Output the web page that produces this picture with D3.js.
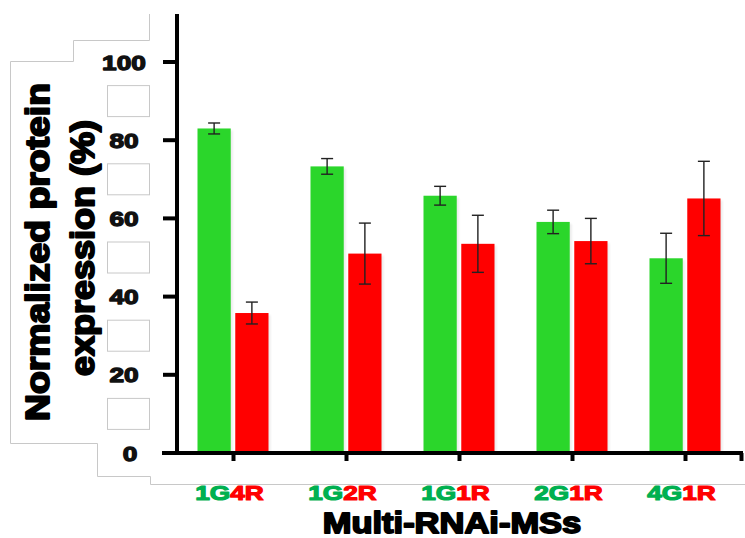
<!DOCTYPE html>
<html>
<head>
<meta charset="utf-8">
<script src="https://cdn.jsdelivr.net/npm/d3@7"></script>
<style>
html,body{margin:0;padding:0;background:#fff;}
svg{display:block;}
text{font-family:"Liberation Sans",Arial,sans-serif;font-weight:bold;}
</style>
</head>
<body>
<svg id="chart" width="745" height="538"></svg>
<script>
// ---- data ----
const categories = ["1G4R", "1G2R", "1G1R", "2G1R", "4G1R"];
const greenValues = [83.0, 73.3, 65.8, 59.1, 49.8];
const greenErrors = [1.4, 2.0, 2.4, 3.0, 6.4];
const redValues = [35.8, 51.0, 53.5, 54.2, 65.1];
const redErrors = [2.8, 7.8, 7.3, 5.8, 9.5];
const yTicks = [0, 20, 40, 60, 80, 100];
const boxValues = [10, 30, 50, 70, 90];
const seriesKeys = ["G", "R"];
const yLabelLines = ["Normalized protein", "expression (%)"];
const xTitle = "Multi-RNAi-MSs";

const GREEN = "#2bd62b", RED = "#ff0000", LABEL_GREEN = "#00b050";

const svg = d3.select("#chart");

const y = d3.scaleLinear().domain([0, 100]).range([453, 62]);
const x = d3.scaleBand().domain(categories).range([177, 742]).padding(0);
const xs = d3.scaleBand().domain(seriesKeys).range([-36, 35]).paddingInner(0.12).paddingOuter(0);
const center = c => x(c) + x.bandwidth() / 2;

// ---- background artifact outline ----
svg.append("path")
  .attr("d", "M149.5,14 V40.5 H73.5 V61.5 H10.5 V443.5 H97.5 V476.5 H150.5 V484.5 H745")
  .attr("fill", "none").attr("stroke", "#c8c8c8").attr("stroke-width", 1);

svg.selectAll("rect.box").data(boxValues).enter().append("rect")
  .attr("class", "box")
  .attr("x", 107.5).attr("width", 42)
  .attr("y", d => y(d) - 15.5).attr("height", 31)
  .attr("fill", "#fff").attr("stroke", "#c8c8c8").attr("stroke-width", 1);

// ---- bars ----
const defs = svg.append("defs");
defs.append("filter").attr("id", "sh").attr("x", "-20%").attr("width", "140%")
  .append("feGaussianBlur").attr("stdDeviation", 1.2);

const rows = [];
categories.forEach((c, i) => {
  rows.push({c, k: "G", v: greenValues[i], e: greenErrors[i]});
  rows.push({c, k: "R", v: redValues[i], e: redErrors[i]});
});

svg.selectAll("rect.shadow").data(rows).enter().append("rect")
  .attr("class", "shadow")
  .attr("x", d => center(d.c) + xs(d.k) + 2)
  .attr("width", xs.bandwidth())
  .attr("y", d => y(d.v) + 2)
  .attr("height", d => y(0) - y(d.v) - 2)
  .attr("fill", "#000").attr("opacity", 0.08)
  .attr("filter", "url(#sh)");

svg.selectAll("rect.bar").data(rows).enter().append("rect")
  .attr("class", "bar")
  .attr("x", d => center(d.c) + xs(d.k))
  .attr("width", xs.bandwidth())
  .attr("y", d => y(d.v))
  .attr("height", d => y(0) - y(d.v))
  .attr("fill", d => d.k === "G" ? GREEN : RED);

// ---- error bars ----
const eb = svg.append("g").attr("stroke", "#222").attr("stroke-width", 1.4);
rows.forEach(d => {
  const cx = center(d.c) + xs(d.k) + xs.bandwidth() / 2;
  const y1 = y(d.v + d.e), y2 = y(d.v - d.e);
  eb.append("line").attr("x1", cx).attr("x2", cx).attr("y1", y1).attr("y2", y2);
  eb.append("line").attr("x1", cx - 6).attr("x2", cx + 6).attr("y1", y1).attr("y2", y1);
  eb.append("line").attr("x1", cx - 6).attr("x2", cx + 6).attr("y1", y2).attr("y2", y2);
});

// ---- axes ----
const axisG = svg.append("g").attr("stroke", "#000").attr("stroke-width", 4).attr("fill", "none");
axisG.append("line").attr("x1", 177).attr("x2", 177).attr("y1", 14).attr("y2", y(0));
yTicks.forEach(t => {
  axisG.append("line").attr("x1", 163).attr("x2", 177).attr("y1", y(t)).attr("y2", y(t));
});
axisG.append("line").attr("x1", 162).attr("x2", 743).attr("y1", y(0)).attr("y2", y(0));
categories.forEach(c => {
  axisG.append("line").attr("x1", center(c)).attr("x2", center(c)).attr("y1", y(0)).attr("y2", y(0) + 8);
});
axisG.append("line").attr("x1", 741.5).attr("x2", 741.5).attr("y1", y(0)).attr("y2", y(0) + 8);

// y tick labels
svg.selectAll("g.ytl").data(yTicks).enter().append("g")
  .attr("class", "ytl")
  .attr("transform", d => `translate(${d === 0 ? 130 : 124},${y(d) + 7.5}) scale(1.25,1)`)
  .append("text")
  .attr("text-anchor", "middle")
  .attr("font-size", 21)
  .attr("fill", "#111").attr("stroke", "#111").attr("stroke-width", 1.3)
  .attr("stroke-linejoin", "round")
  .text(d => d);

// category labels
const cl = svg.selectAll("g.cl").data(categories).enter().append("g")
  .attr("class", "cl")
  .attr("transform", d => `translate(${center(d) - 4},499.5) scale(1.25,1)`)
  .append("text")
  .attr("text-anchor", "middle")
  .attr("font-size", 21)
  .attr("stroke-width", 1.2).attr("stroke-linejoin", "round");
cl.append("tspan").attr("fill", LABEL_GREEN).attr("stroke", LABEL_GREEN).text(d => d.slice(0, 2));
cl.append("tspan").attr("fill", RED).attr("stroke", RED).text(d => d.slice(2));

// x title
svg.append("g").attr("transform", "translate(452,533) scale(1.15,1)")
  .append("text").attr("text-anchor", "middle").attr("font-size", 30)
  .attr("fill", "#000").attr("stroke", "#000").attr("stroke-width", 1.8).attr("stroke-linejoin", "round")
  .text(xTitle);

// y title (two lines, rotated)
const yl = [{t: yLabelLines[0], bx: 49, cy: 252, len: 338}, {t: yLabelLines[1], bx: 94, cy: 248, len: 256}];
svg.selectAll("text.yl").data(yl).enter().append("text")
  .attr("class", "yl")
  .attr("transform", d => `translate(${d.bx},${d.cy}) rotate(-90)`)
  .attr("text-anchor", "middle")
  .attr("font-size", 33)
  .attr("textLength", d => d.len)
  .attr("lengthAdjust", "spacingAndGlyphs")
  .attr("fill", "#000").attr("stroke", "#000").attr("stroke-width", 2).attr("stroke-linejoin", "round")
  .text(d => d.t);
</script>
</body>
</html>
